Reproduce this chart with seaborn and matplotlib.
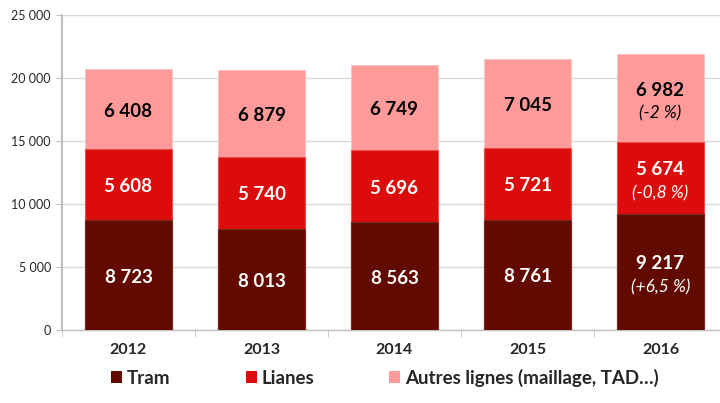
import matplotlib
matplotlib.use("Agg")
import matplotlib.pyplot as plt
import seaborn as sns
import pandas as pd
import numpy as np
from matplotlib.patches import Patch
from matplotlib.ticker import FuncFormatter, FixedLocator

years = ["2012", "2013", "2014", "2015", "2016"]
tram = [8723, 8013, 8563, 8761, 9217]
lianes = [5608, 5740, 5696, 5721, 5674]
autres = [6408, 6879, 6749, 7045, 6982]
pct_tram = ["", "", "", "", "(+6,5 %)"]
pct_lianes = ["", "", "", "", "(-0,8 %)"]
pct_autres = ["", "", "", "", "(-2 %)"]
series_names = ["Tram", "Lianes", "Autres lignes (maillage, TAD…)"]
colors = ["#620A00", "#DC0C0C", "#FF9A9A"]

sns.set_style("white")
plt.rcParams['font.family'] = ['Lato', 'DejaVu Sans']

df = pd.DataFrame({"year": years, "tram": tram, "lianes": lianes, "autres": autres})
df["tl"] = df["tram"] + df["lianes"]
df["total"] = df["tl"] + df["autres"]

fig = plt.figure(figsize=(7.2, 4.03), dpi=100)
ax = fig.add_axes([62/720, 1-330/403, 665/720, 315/403])

sns.barplot(data=df, x="year", y="total", color=colors[2], width=0.66, ax=ax,
            saturation=1, edgecolor="#F4C6C6", linewidth=0.8, zorder=2)
sns.barplot(data=df, x="year", y="tl", color=colors[1], width=0.66, ax=ax,
            saturation=1, edgecolor="#E85050", linewidth=0.8, zorder=3)
sns.barplot(data=df, x="year", y="tram", color=colors[0], width=0.66, ax=ax,
            saturation=1, edgecolor="#7A2A20", linewidth=0.8, zorder=4)

def fmt(v):
    return f"{v:,}".replace(",", " ")

for i in range(len(years)):
    segs = [(0, tram[i], pct_tram[i], "white"),
            (tram[i], lianes[i], pct_lianes[i], "white"),
            (tram[i] + lianes[i], autres[i], pct_autres[i], "black")]
    for base, h, pct, col in segs:
        c = base + h / 2
        if pct:
            ax.annotate(fmt(h), (i, c), xytext=(0, 6), textcoords="offset points",
                        ha="center", va="center", fontsize=13.5, fontweight="bold",
                        color=col, zorder=6)
            ax.annotate(pct, (i, c), xytext=(0, -11), textcoords="offset points",
                        ha="center", va="center", fontsize=12.5, fontstyle="italic",
                        color=col, zorder=6)
        else:
            ax.annotate(fmt(h), (i, c), xytext=(0, -1.5), textcoords="offset points",
                        ha="center", va="center", fontsize=13.5, fontweight="bold",
                        color=col, zorder=6)

ax.set_ylim(0, 25000)
ax.set_xlim(-0.5, 4.5)
ax.set_yticks(np.arange(0, 25001, 5000))
ax.yaxis.set_major_formatter(FuncFormatter(lambda v, p: fmt(int(v))))
ax.grid(axis="y", color="#D9D9D9", linewidth=1, zorder=0)
ax.set_axisbelow(True)
for s in ["top", "right"]:
    ax.spines[s].set_visible(False)
ax.spines["left"].set_color("#BFBFBF")
ax.spines["left"].set_linewidth(1.5)
ax.spines["bottom"].set_color("#BFBFBF")
ax.spines["bottom"].set_linewidth(1)
ax.tick_params(axis="y", length=4, color="#BFBFBF", labelsize=9, pad=4, left=True)
ax.tick_params(axis="x", which="major", length=0, labelsize=11.5, pad=9)
ax.xaxis.set_minor_locator(FixedLocator([-0.5, 0.5, 1.5, 2.5, 3.5, 4.5]))
ax.tick_params(axis="x", which="minor", length=5, color="#BFBFBF", bottom=True)
for lbl in ax.get_xticklabels():
    lbl.set_fontweight("bold")
ax.set_xlabel("")
ax.set_ylabel("")

handles = [Patch(facecolor=c, edgecolor="none") for c in colors]
fig.legend(handles, series_names, loc="center", bbox_to_anchor=(385/720, 1-378/403),
           ncol=3, frameon=False, prop={"weight": "bold", "size": 13.5},
           handlelength=0.6, handleheight=0.6, handletextpad=0.25, columnspacing=4.0)

fig.savefig("out.png", dpi=100)
